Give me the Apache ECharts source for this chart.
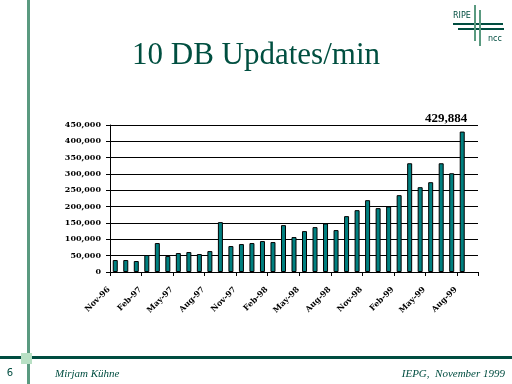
<!DOCTYPE html>
<html>
<head>
<meta charset="utf-8">
<script src="https://cdn.jsdelivr.net/npm/echarts@6/dist/echarts.min.js"></script>
<style>html,body{margin:0;padding:0;background:#fff}#c{width:512px;height:384px}</style>
</head>
<body>
<div id="c"></div>
<script>
var months = ['Nov-96','Dec-96','Jan-97','Feb-97','Mar-97','Apr-97','May-97','Jun-97','Jul-97','Aug-97','Sep-97','Oct-97',
  'Nov-97','Dec-97','Jan-98','Feb-98','Mar-98','Apr-98','May-98','Jun-98','Jul-98','Aug-98','Sep-98','Oct-98',
  'Nov-98','Dec-98','Jan-99','Feb-99','Mar-99','Apr-99','May-99','Jun-99','Jul-99','Aug-99','Sep-99'];
var updates = [36600, 36600, 33600, 51900, 88600, 48900, 58000, 61000, 55000, 64000, 152700, 79400,
  85500, 88600, 94700, 91600, 143500, 106900, 125200, 137400, 148600, 128300, 171000, 189300,
  219900, 195500, 200500, 235200, 332900, 259600, 274900, 332900, 302300, 429884, null];
var yTicks = [0, 50000, 100000, 150000, 200000, 250000, 300000, 350000, 400000, 450000];
var titleText = '10 DB Updates/min';
var pageNumber = '6';
var author = 'Mirjam Kühne';
var eventText = 'IEPG,  November 1999';

var peakIndex = 33;
function fmt(v){ return Number(v).toLocaleString('en-US'); }
var axisFont = {fontFamily:'DejaVu Serif', fontWeight:'bold', fontSize:8, color:'#000'};

var chart = echarts.init(document.getElementById('c'), null, {renderer:'canvas'});
chart.setOption({
  animation:false,
  backgroundColor:'#fff',
  title:{
    text:titleText, left:'center', top:35,
    textStyle:{fontFamily:'Liberation Serif', fontWeight:'normal', fontSize:31, color:'#004f40'}
  },
  grid:{left:110, right:34, top:125, bottom:112, containLabel:false},
  xAxis:{
    type:'category', data:months, boundaryGap:true,
    axisLine:{lineStyle:{color:'#000', width:1}},
    axisTick:{show:true, interval:2, length:4, lineStyle:{color:'#000'}},
    axisLabel:Object.assign({interval:2, rotate:45, margin:10, padding:[0,9,0,0]}, axisFont)
  },
  yAxis:{
    type:'value', min:yTicks[0], max:yTicks[yTicks.length-1], interval:yTicks[1]-yTicks[0],
    axisLine:{show:true, lineStyle:{color:'#000', width:1}},
    axisTick:{show:true, length:4, lineStyle:{color:'#000'}},
    splitLine:{show:true, lineStyle:{color:'#000', width:1}},
    axisLabel:Object.assign({margin:9, formatter:function(v){return fmt(v);}}, axisFont)
  },
  series:[{
    type:'bar',
    barWidth:5,
    itemStyle:{color:'#008080', borderColor:'#000', borderWidth:1},
    data:updates.map(function(v,i){
      if(i===peakIndex){
        return {value:v, label:{show:true, position:'top', offset:[-16,-1],
          formatter:function(p){return fmt(p.value);},
          fontFamily:'Liberation Serif', fontWeight:'bold', fontSize:13, color:'#000'}};
      }
      return v;
    })
  }],
  graphic:[
    {type:'rect', shape:{x:0, y:356, width:512, height:3}, style:{fill:'#004d40'}, z:10},
    {type:'rect', shape:{x:27, y:0, width:3, height:384}, style:{fill:'#5a9a80'}, z:11},
    {type:'rect', shape:{x:21, y:353, width:11, height:11}, style:{fill:'#b8e0c4'}, z:12},
    {type:'text', x:10, y:373, style:{text:pageNumber, fontFamily:'DejaVu Sans', fontSize:10, fill:'#004d40', align:'center', verticalAlign:'middle'}, z:12},
    {type:'text', x:55, y:374, style:{text:author, fontFamily:'Liberation Serif', fontStyle:'italic', fontSize:11, fill:'#004d40', align:'left', verticalAlign:'middle'}, z:12},
    {type:'text', x:505, y:374, style:{text:eventText, fontFamily:'Liberation Serif', fontStyle:'italic', fontSize:11, fill:'#004d40', align:'right', verticalAlign:'middle'}, z:12},
    /* RIPE ncc logo */
    {type:'rect', shape:{x:453, y:23, width:50, height:2}, style:{fill:'#004d40'}, z:12},
    {type:'rect', shape:{x:458, y:28, width:46, height:2}, style:{fill:'#004d40'}, z:12},
    {type:'rect', shape:{x:474, y:5, width:2, height:36}, style:{fill:'#5a9a80'}, z:13},
    {type:'rect', shape:{x:479, y:10, width:2, height:36}, style:{fill:'#5a9a80'}, z:13},
    {type:'text', x:453, y:16, style:{text:'RIPE', fontFamily:'DejaVu Sans', fontSize:8, fill:'#004d40', align:'left', verticalAlign:'middle'}, z:12},
    {type:'text', x:488, y:39, style:{text:'ncc', fontFamily:'DejaVu Sans', fontSize:8, fill:'#004d40', align:'left', verticalAlign:'middle'}, z:12}
  ]
});
</script>
</body>
</html>
